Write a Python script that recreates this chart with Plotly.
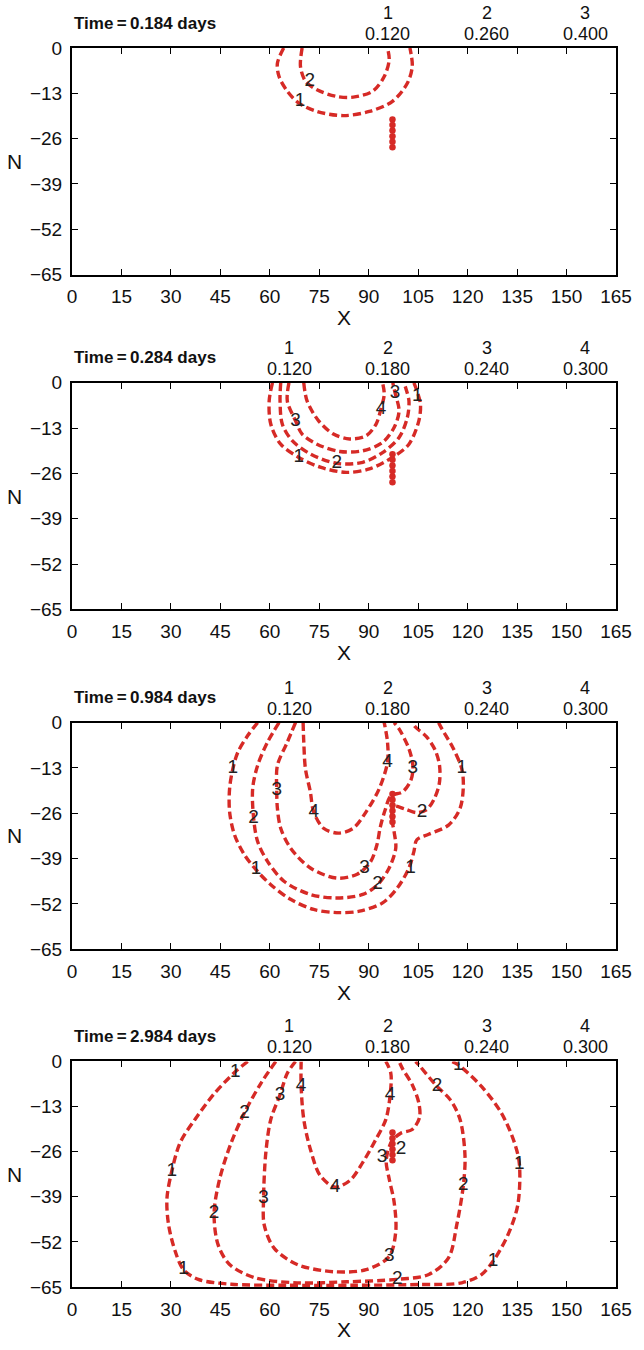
import plotly.graph_objects as go

# ---------------- data ----------------
times = ["0.184", "0.284", "0.984", "2.984"]
level_ids_p1 = ["1", "2", "3"]
level_vals_p1 = ["0.120", "0.260", "0.400"]
level_ids = ["1", "2", "3", "4"]
level_vals = ["0.120", "0.180", "0.240", "0.300"]
legend_x_p1 = [95.8, 125.8, 155.7]
legend_x = [65.9, 95.8, 125.8, 155.7]

x_ticks = [0, 15, 30, 45, 60, 75, 90, 105, 120, 135, 150, 165]
n_ticks = [0, -13, -26, -39, -52, -65]

# injection source dots (same column in all panels)
src_x = [97.2, 97.2, 97.2, 97.2, 97.2, 97.2]
src_n = [-20.5, -22.1, -23.7, -25.3, -26.9, -28.5]

# panel 1 (t = 0.184 d)
p1_c1_x = [64.2, 62.3, 62.8, 65.3, 68.8, 74.3, 82.3, 90.2, 97.2, 101.7, 103.2, 102.5]
p1_c1_n = [0, -4.4, -8.2, -12.4, -15.8, -18.2, -19.4, -18.2, -15.3, -10.1, -5.3, 0]
p1_c2_x = [69.8, 69.3, 70.8, 74.3, 80.3, 85.3, 91.2, 94.7, 96.2, 95.7]
p1_c2_n = [0, -5.3, -9.5, -12.0, -13.9, -14.1, -12.4, -8.2, -3.4, 0]
p1_lab_x = [69.2, 72.1]
p1_lab_n = [-15.4, -9.6]
p1_lab_t = ["1", "2"]

# panel 2 (t = 0.284 d)
p2_c1_x = [60.8, 59.8, 60.3, 63.3, 68.8, 75.3, 83.2, 90.2, 97.2, 102.2, 105.2, 105.7, 104.7, 103.7]
p2_c1_n = [0, -5.2, -11.9, -17.6, -21.4, -24.2, -25.7, -24.7, -21.4, -17.6, -10.9, -6.2, -2.5, 0]
p2_c2_x = [63.3, 63.1, 63.8, 66.8, 72.3, 80.3, 88.2, 94.2, 99.2, 101.7, 102.2, 101.2, 100.7]
p2_c2_n = [0, -5.2, -11.9, -16.6, -20.4, -23.1, -22.8, -20.0, -15.7, -10.0, -5.2, -1.4, 0]
p2_c3_x = [65.8, 65.3, 67.8, 69.8, 74.3, 81.2, 88.2, 94.2, 97.7, 99.2, 98.0, 97.3]
p2_c3_n = [0, -5.2, -10.9, -14.7, -17.6, -19.7, -19.5, -17.1, -12.8, -8.1, -2.9, 0]
p2_c4_x = [70.3, 71.3, 74.8, 79.3, 84.2, 89.2, 92.2, 93.7, 94.7, 94.2]
p2_c4_n = [0, -5.2, -10.9, -14.7, -16.1, -15.2, -11.9, -7.5, -3.3, 0]
p2_lab_x = [68.8, 104.7, 80.3, 67.8, 98.0, 93.7]
p2_lab_n = [-21.4, -3.8, -23.1, -10.9, -2.9, -7.5]
p2_lab_t = ["1", "1", "2", "3", "3", "4"]

# panel 3 (t = 0.984 d)
p3_c1_x = [56.3, 53.3, 50.3, 48.8, 47.8, 47.8, 49.3, 52.3, 55.8, 60.3, 66.3, 73.3, 80.3, 87.2,
           94.2, 98.7, 102.2, 103.7, 104.6, 108.2, 114.2, 117.7, 118.7, 118.2, 115.7, 112.2, 111.2]
p3_c1_n = [0, -3.7, -8.5, -13.2, -18.9, -25.6, -32.2, -37.9, -42.2, -46.5, -50.7, -53.6, -54.5, -54.1,
           -51.7, -47.4, -41.7, -37.0, -33.6, -32.0, -29.4, -24.6, -18.0, -13.2, -7.5, -1.8, 0]
p3_c2_x = [62.8, 59.3, 56.3, 54.8, 55.1, 56.3, 59.3, 64.3, 72.3, 80.3, 88.2, 92.7, 96.2, 98.2,
           97.7, 97.0, 97.6, 101.0, 104.5, 107.5, 109.8, 111.4, 111.5, 110.2, 107.5, 104.2, 103.2]
p3_c2_n = [0, -5.6, -12.3, -18.9, -27.5, -34.1, -39.8, -45.5, -49.3, -50.3, -49.3, -46.5, -41.7, -36.0,
           -31.3, -27.5, -24.0, -24.8, -25.8, -25.0, -22.0, -17.5, -12.5, -8.0, -4.0, -1.3, 0]
p3_c3_x = [67.8, 65.3, 62.3, 62.1, 62.3, 63.3, 66.3, 72.3, 80.3, 86.5, 90.5, 92.5, 93.5, 95.0,
           96.7, 100.2, 102.8, 103.4, 102.2, 99.2, 97.7]
p3_c3_n = [0, -5.6, -12.3, -19.4, -24.6, -30.3, -36.0, -41.7, -44.6, -43.5, -40.0, -35.0, -30.0, -25.0,
           -21.0, -19.9, -16.5, -12.5, -7.5, -1.8, 0]
p3_c4_x = [70.1, 70.3, 70.8, 72.3, 73.3, 76.3, 80.8, 85.3, 89.2, 93.2, 95.7, 95.7, 94.7]
p3_c4_n = [0, -5.6, -13.2, -19.9, -25.6, -30.3, -31.7, -30.3, -25.6, -18.9, -11.3, -5.6, 0]
p3_lab_x = [48.8, 55.8, 102.7, 118.2, 55.1, 92.7, 106.2, 62.1, 88.7, 103.4, 73.3, 95.7]
p3_lab_n = [-13.2, -42.2, -41.7, -13.2, -27.5, -46.5, -25.6, -19.4, -41.7, -13.2, -25.6, -11.3]
p3_lab_t = ["1", "1", "1", "1", "2", "2", "2", "3", "3", "3", "4", "4"]

# panel 4 (t = 2.984 d)
p4_c1_x = [53.3, 49.5, 43.3, 37.3, 32.8, 30.3, 28.8, 29.3, 31.3, 33.8, 38.3, 48.3, 65.0, 85.0,
           105.0, 118.2, 124.2, 127.7, 132.2, 135.2, 135.7, 134.2, 130.2, 124.2, 117.2, 115.2]
p4_c1_n = [0, -3.0, -9.1, -16.7, -23.4, -31.5, -39.5, -47.1, -54.7, -60.0, -62.8, -64.2, -64.5, -64.5,
           -64.3, -63.8, -61.4, -57.6, -50.0, -41.4, -29.6, -23.4, -14.8, -7.2, -1.0, 0]
p4_c2_x = [61.8, 57.3, 52.3, 48.3, 44.8, 43.1, 44.3, 47.8, 55.3, 68.3, 83.3, 98.7, 108.2, 114.2,
           116.7, 118.7, 119.2, 117.7, 114.7, 110.7, 105.2, 104.2]
p4_c2_n = [0, -6.3, -14.8, -23.4, -33.8, -43.8, -52.8, -58.5, -62.3, -63.8, -63.5, -62.8, -61.4, -56.6,
           -47.1, -35.7, -27.2, -16.7, -11.0, -7.2, -1.0, 0]
p4_c3_x = [67.8, 65.3, 63.1, 60.3, 58.8, 58.1, 58.3, 61.3, 68.3, 79.3, 89.2, 96.2, 98.2, 97.7,
           96.2, 95.3, 97.0, 99.7, 103.2, 105.4, 105.2, 103.2, 100.2, 99.2]
p4_c3_n = [0, -3.4, -9.6, -16.7, -26.2, -39.5, -47.1, -53.8, -58.5, -60.6, -60.0, -56.2, -49.0, -40.5,
           -33.8, -28.5, -23.0, -20.7, -19.6, -16.2, -12.0, -6.7, -2.0, 0]
p4_c4_x = [69.5, 69.5, 70.3, 72.3, 75.3, 79.8, 84.3, 88.2, 92.2, 95.2, 96.5, 96.7, 95.2]
p4_c4_n = [0, -7.2, -16.7, -25.3, -32.9, -36.2, -34.3, -29.1, -22.4, -16.7, -9.6, -3.4, 0]
p4_lab_x = [49.5, 30.3, 33.8, 127.7, 135.7, 117.2, 52.3, 43.1, 98.7, 118.7, 110.7, 99.8,
            63.1, 58.1, 96.2, 94.0, 69.5, 79.8, 96.5]
p4_lab_n = [-3.0, -31.5, -60.0, -57.6, -29.6, -1.0, -14.8, -43.8, -62.8, -35.7, -7.2, -25.3,
            -9.6, -39.5, -56.2, -27.7, -7.2, -36.2, -9.6]
p4_lab_t = ["1", "1", "1", "1", "1", "1", "2", "2", "2", "2", "2", "2",
            "3", "3", "3", "3", "4", "4", "4"]

panels = [
    dict(curves=[(p1_c1_x, p1_c1_n), (p1_c2_x, p1_c2_n)],
         lab=(p1_lab_x, p1_lab_n, p1_lab_t), ids=level_ids_p1, vals=level_vals_p1, lx=legend_x_p1),
    dict(curves=[(p2_c1_x, p2_c1_n), (p2_c2_x, p2_c2_n), (p2_c3_x, p2_c3_n), (p2_c4_x, p2_c4_n)],
         lab=(p2_lab_x, p2_lab_n, p2_lab_t), ids=level_ids, vals=level_vals, lx=legend_x),
    dict(curves=[(p3_c1_x, p3_c1_n), (p3_c2_x, p3_c2_n), (p3_c3_x, p3_c3_n), (p3_c4_x, p3_c4_n)],
         lab=(p3_lab_x, p3_lab_n, p3_lab_t), ids=level_ids, vals=level_vals, lx=legend_x),
    dict(curves=[(p4_c1_x, p4_c1_n), (p4_c2_x, p4_c2_n), (p4_c3_x, p4_c3_n), (p4_c4_x, p4_c4_n)],
         lab=(p4_lab_x, p4_lab_n, p4_lab_t), ids=level_ids, vals=level_vals, lx=legend_x),
]

# ---------------- styling ----------------
RED = "#d62a26"
FONT = "Liberation Sans, Arial, sans-serif"
W, H = 644, 1350
ML, MR, MT, MB = 72, 21, 48, 55
panel_tops = [48, 385, 727, 1068]
PH = 228
plot_h = H - MT - MB

fig = go.Figure()
annotations = []

for i, p in enumerate(panels):
    k = i + 1
    xa = "x" if k == 1 else f"x{k}"
    ya = "y" if k == 1 else f"y{k}"
    for cx, cn in p["curves"]:
        fig.add_trace(go.Scatter(x=cx, y=cn, mode="lines", xaxis=xa, yaxis=ya,
                                 line=dict(color=RED, width=3.4, dash="8px,4px", shape="spline",
                                           smoothing=0.9),
                                 showlegend=False, hoverinfo="skip"))
    fig.add_trace(go.Scatter(x=src_x, y=src_n, mode="markers", xaxis=xa, yaxis=ya,
                             marker=dict(color=RED, size=6.5), showlegend=False, hoverinfo="skip"))
    lx, ln, lt = p["lab"]
    fig.add_trace(go.Scatter(x=lx, y=ln, mode="text", text=lt, xaxis=xa, yaxis=ya,
                             textfont=dict(family=FONT, size=19, color="#222"),
                             showlegend=False, hoverinfo="skip"))

    top = panel_tops[i]
    y1 = 1 - (top - MT) / plot_h
    y0 = 1 - (top + PH - MT) / plot_h
    axis_common = dict(showline=True, linecolor="black", linewidth=2, mirror="ticks",
                       ticks="inside", ticklen=6, tickwidth=1, tickcolor="black",
                       showgrid=False, zeroline=False,
                       tickfont=dict(family=FONT, size=19, color="#111"))
    fig.update_layout(**{
        ("xaxis" if k == 1 else f"xaxis{k}"): dict(
            domain=[0, 1], range=[0, 165], tickmode="array", tickvals=x_ticks,
            ticktext=[str(v) for v in x_ticks], anchor=ya, ticklabelstandoff=4,
            title=dict(text="X", font=dict(family=FONT, size=21, color="#111"), standoff=4),
            **axis_common),
        ("yaxis" if k == 1 else f"yaxis{k}"): dict(
            domain=[max(y0, 0), min(y1, 1)], range=[-65, 0], tickmode="array", tickvals=n_ticks,
            anchor=xa, ticklabelstandoff=4, **axis_common),
    })

    # time label
    annotations.append(dict(text=f"<b>Time\u2009=\u2009{times[i]} days</b>", xref=f"{xa} domain",
                            yref=f"{ya} domain", x=0, y=1, xanchor="left", yanchor="middle",
                            yshift=25, showarrow=False,
                            font=dict(family=FONT, size=17, color="#111")))
    # level legend
    for lid, lv, px in zip(p["ids"], p["vals"], p["lx"]):
        annotations.append(dict(text=lid, xref=xa, yref=f"{ya} domain", x=px, y=1,
                                xanchor="center", yanchor="middle", yshift=35, showarrow=False,
                                font=dict(family=FONT, size=18, color="#111")))
        annotations.append(dict(text=lv, xref=xa, yref=f"{ya} domain", x=px, y=1,
                                xanchor="center", yanchor="middle", yshift=14, showarrow=False,
                                font=dict(family=FONT, size=18, color="#111")))
    # N label (upright)
    annotations.append(dict(text="N", xref="paper", yref=f"{ya} domain", x=(14 - ML) / (W - ML - MR),
                            y=0.5, xanchor="center", yanchor="middle", showarrow=False,
                            font=dict(family=FONT, size=21, color="#111")))

fig.update_layout(width=W, height=H, margin=dict(l=ML, r=MR, t=MT, b=MB),
                  plot_bgcolor="white", paper_bgcolor="white", annotations=annotations,
                  showlegend=False)

fig.write_html("out.html", config={"displayModeBar": False},
               post_script="document.body.style.margin='0';document.body.style.overflow='hidden';")
